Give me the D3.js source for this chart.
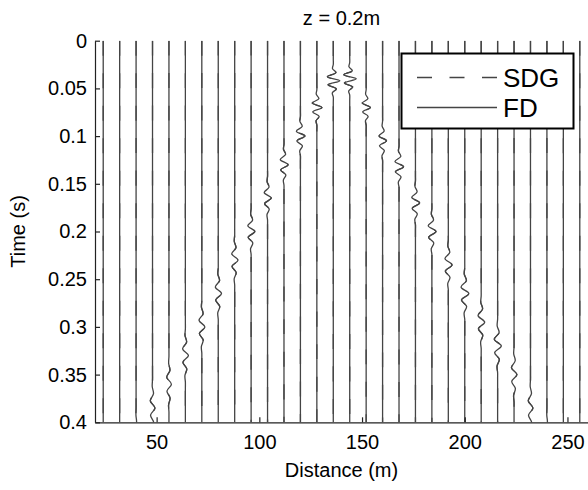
<!DOCTYPE html>
<html>
<head>
<meta charset="utf-8">
<script src="https://cdn.jsdelivr.net/npm/d3@7"></script>
<style>
  body { margin: 0; background: #fff; }
  text { font-family: "Liberation Sans", Arial, sans-serif; fill: #000; }
</style>
</head>
<body>
<div id="my_dataviz"></div>
<script>
// receiver positions (m)
const distances = [24, 32, 40, 48, 56, 64, 72, 80, 88, 96, 104, 112, 120, 128, 136,
                   144, 152, 160, 168, 176, 184, 192, 200, 208, 216, 224, 232, 240, 248, 256];
// centre time of the arriving wave on each trace (s), null = no arrival before 0.4 s
const arrivals = [null, null, 0.415, 0.385, 0.36, 0.33, 0.30, 0.265, 0.23, 0.20, 0.165, 0.13, 0.10, 0.07, 0.042,
                  0.04, 0.07, 0.105, 0.132, 0.17, 0.20, 0.235, 0.265, 0.295, 0.32, 0.35, 0.385, 0.415, null, null];
// length of the wave packet (s)
const durations = [0, 0, 0.06, 0.06, 0.058, 0.056, 0.055, 0.054, 0.052, 0.048, 0.046, 0.043, 0.041, 0.037, 0.034,
                   0.034, 0.037, 0.041, 0.043, 0.046, 0.048, 0.052, 0.054, 0.055, 0.056, 0.058, 0.06, 0.06, 0, 0];
// peak displacement (m)
const amps = [0, 0, 0.6, 1.2, 1.2, 1.5, 1.5, 1.6, 1.6, 1.8, 1.8, 2.0, 2.2, 2.5, 3.2,
              3.2, 2.1, 1.9, 2.2, 2.0, 2.0, 1.8, 2.0, 1.7, 1.8, 1.4, 1.2, 0.6, 0, 0];
// normalised wiggle shape of the packet
const wavelet = [0, -0.12, 0.4, -0.9, 1, -0.8, 0.45, -0.15, 0];

const xTicks = [50, 100, 150, 200, 250];
const yTicks = [0, 0.05, 0.1, 0.15, 0.2, 0.25, 0.3, 0.35, 0.4];
const legendLabels = ["SDG", "FD"];

const width = 588, height = 490;
const margin = {top: 40.7, right: 0, bottom: 67.7, left: 95};

const x = d3.scaleLinear()
    .domain([20, 260])
    .range([margin.left, width - margin.right]);

const y = d3.scaleLinear()
    .domain([0, 0.4])
    .range([margin.top, height - margin.bottom]);

const svg = d3.select("#my_dataviz").append("svg")
    .attr("width", width)
    .attr("height", height);

svg.append("clipPath")
    .attr("id", "clip")
  .append("rect")
    .attr("x", margin.left)
    .attr("y", margin.top)
    .attr("width", width - margin.left - margin.right)
    .attr("height", height - margin.top - margin.bottom);

// build the points of each trace : straight line + wave packet
const traces = distances.map((d, i) => {
    const pts = [[d, 0]];
    if (arrivals[i] !== null) {
        const t0 = arrivals[i] - durations[i] / 2,
              t1 = t0 + durations[i];
        // keep the straight parts straight
        pts.push([d, t0 - 0.006]);
        wavelet.forEach((w, j) => {
            pts.push([d + amps[i] * w, t0 + j * durations[i] / (wavelet.length - 1)]);
        });
        pts.push([d, t1 + 0.006]);
        pts.push([d, Math.max(0.4, t1 + 0.012)]);
    } else {
        pts.push([d, 0.4]);
    }
    return pts;
});

const line = d3.line()
    .x(p => x(p[0]))
    .y(p => y(p[1]))
    .curve(d3.curveCatmullRom.alpha(0.5));

const g = svg.append("g").attr("clip-path", "url(#clip)");

// FD (solid)
g.selectAll(".fd")
    .data(traces)
  .enter().append("path")
    .attr("class", "fd")
    .attr("d", line)
    .attr("fill", "none")
    .attr("stroke", "#444")
    .attr("stroke-width", 1.3);

// SDG (dashed) on top
g.selectAll(".sdg")
    .data(traces)
  .enter().append("path")
    .attr("class", "sdg")
    .attr("d", line)
    .attr("fill", "none")
    .attr("stroke", "#444")
    .attr("stroke-width", 1.3)
    .attr("stroke-dasharray", "15,17.5");

// axes, ticks inside like matlab
const xAxis = svg.append("g")
    .attr("transform", "translate(0," + y(0.4) + ")")
    .call(d3.axisBottom(x).tickValues(xTicks).tickSizeInner(-5).tickSizeOuter(0).tickPadding(13));

const yAxis = svg.append("g")
    .attr("transform", "translate(" + margin.left + ",0)")
    .call(d3.axisLeft(y).tickValues(yTicks).tickFormat(d => String(d))
        .tickSizeInner(-5).tickSizeOuter(0).tickPadding(8));

[xAxis, yAxis].forEach(a => {
    a.selectAll("path, line").attr("stroke", "#222").attr("stroke-width", 1.2);
    a.selectAll("text").style("font-size", "20px").attr("fill", "#000");
});

// title and axis labels
svg.append("text")
    .attr("x", (x(20) + x(260)) / 2)
    .attr("y", 25)
    .attr("text-anchor", "middle")
    .style("font-size", "20px")
    .text("z = 0.2m");

svg.append("text")
    .attr("x", (x(20) + x(260)) / 2)
    .attr("y", 477)
    .attr("text-anchor", "middle")
    .style("font-size", "20px")
    .text("Distance (m)");

svg.append("text")
    .attr("transform", "translate(25," + (y(0) + y(0.4)) / 2 + ") rotate(-90)")
    .attr("text-anchor", "middle")
    .style("font-size", "20px")
    .text("Time (s)");

// legend
const legend = svg.append("g");
legend.append("rect")
    .attr("x", 401.5)
    .attr("y", 53.5)
    .attr("width", 172)
    .attr("height", 75)
    .attr("fill", "#fff")
    .attr("stroke", "#000")
    .attr("stroke-width", 2);

legendLabels.forEach((lab, i) => {
    const ly = 77.5 + i * 30;
    legend.append("line")
        .attr("x1", 417).attr("x2", 497)
        .attr("y1", ly).attr("y2", ly)
        .attr("stroke", "#444")
        .attr("stroke-width", 1.3)
        .attr("stroke-dasharray", i === 0 ? "15,17.5" : null);
    legend.append("text")
        .attr("x", 503)
        .attr("y", ly + 9)
        .style("font-size", "26px")
        .text(lab);
});
</script>
</body>
</html>
